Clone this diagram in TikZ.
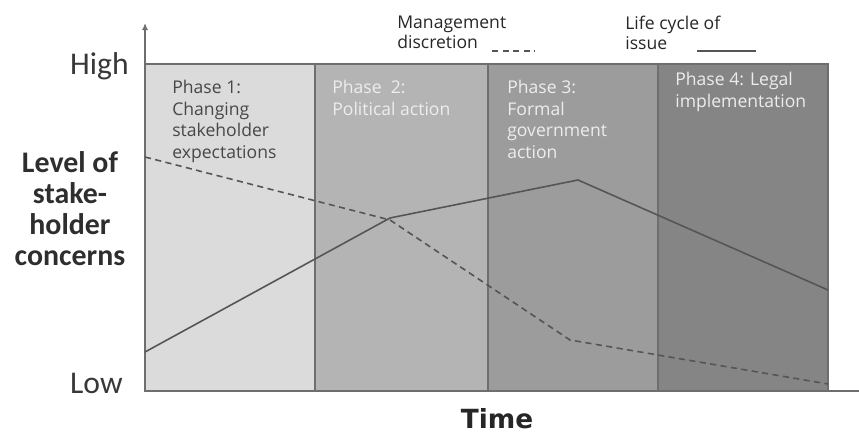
\documentclass[tikz,border=0pt]{standalone}
\usepackage{fontspec}
\setmainfont{Carlito}
\newfontfamily\phasefont{Open Sans}
\newfontfamily\timefont{DejaVu Sans}
\usepackage{xcolor}
\usetikzlibrary{arrows.meta}

\definecolor{phaseone}{RGB}{219,219,219}
\definecolor{phasetwo}{RGB}{180,180,180}
\definecolor{phasethree}{RGB}{156,156,156}
\definecolor{phasefour}{RGB}{133,133,133}
\definecolor{edgegray}{RGB}{110,110,110}
\definecolor{linegray}{RGB}{85,85,85}

\begin{document}
\begin{tikzpicture}[x=0.02cm, y=-0.02cm,
    phasebox/.style={draw=edgegray, line width=0.6pt},
    phasetext/.style={anchor=north west, inner sep=0pt, align=left,
        font=\phasefont\fontsize{10}{12.2}\selectfont},
    legendtext/.style={anchor=north west, inner sep=0pt, align=left,
        font=\phasefont\fontsize{10}{11.4}\selectfont, text=black!85},
    levellabel/.style={anchor=base east, inner sep=0pt,
        font=\fontsize{18}{18}\selectfont, text=black!78},
    lifecycle/.style={linegray, line width=0.9pt},
    discretion/.style={linegray, line width=0.9pt, dash pattern=on 3.5pt off 2.5pt}]

    \useasboundingbox (0,0) rectangle (859,435);

    \filldraw[phasebox, fill=phaseone]   (145,64) rectangle (315,391);
    \filldraw[phasebox, fill=phasetwo]   (315,64) rectangle (488,391);
    \filldraw[phasebox, fill=phasethree] (488,64) rectangle (658,391);
    \filldraw[phasebox, fill=phasefour]  (658,64) rectangle (828,391);

    \coordinate (origin) at (145,391);
    \coordinate (ytop) at (145,23);
    \coordinate (xend) at (859,391);
    \draw[edgegray, line width=0.8pt, -{Latex[length=4pt, width=3.5pt]}] (origin) -- (ytop);
    \draw[edgegray, line width=0.8pt] (origin) -- (xend);

    \node[phasetext, text=black!72] (p1) at (172,80)
        {Phase 1:\\Changing\\stakeholder\\expectations};
    \node[phasetext, text=white!93!black] (p2) at (332,80)
        {Phase~~2:\\Political action};
    \node[phasetext, text=white!93!black] (p3) at (507,80)
        {Phase 3:\\Formal\\government\\action};
    \node[phasetext, text=white!93!black] (p4) at (675,72)
        {Phase 4: Legal\\implementation};

    \coordinate (s1) at (145,352);
    \coordinate (s2) at (390,218);
    \coordinate (s3) at (578,180);
    \coordinate (s4) at (828,290);
    \draw[lifecycle] (s1) -- (s2) -- (s3) -- (s4);

    \coordinate (d1) at (145,157);
    \coordinate (d2) at (390,220);
    \coordinate (d3) at (570,340);
    \coordinate (d4) at (828,384);
    \draw[discretion] (d1) -- (d2) -- (d3) -- (d4);

    \node[levellabel] (high) at (129,75) {High};
    \node[levellabel] (low) at (123,394) {Low};
    \node[anchor=north, inner sep=0pt, align=center, text=black!82,
        font=\bfseries\fontsize{17}{17.6}\selectfont] (level) at (70,151)
        {Level of\\stake-\\holder\\concerns};
    \node[inner sep=0pt, text=black!85,
        font=\timefont\bfseries\fontsize{15}{16}\selectfont] (time) at (497,419) {Time};

    \node[legendtext] (mgmt) at (397,16) {Management\\discretion};
    \coordinate (md1) at (492,51);
    \coordinate (md2) at (535,51);
    \draw[discretion] (md1) -- (md2);
    \node[legendtext] (life) at (625,16) {Life cycle of\\issue};
    \coordinate (lc1) at (697,51);
    \coordinate (lc2) at (756,51);
    \draw[lifecycle] (lc1) -- (lc2);
\end{tikzpicture}
\end{document}
